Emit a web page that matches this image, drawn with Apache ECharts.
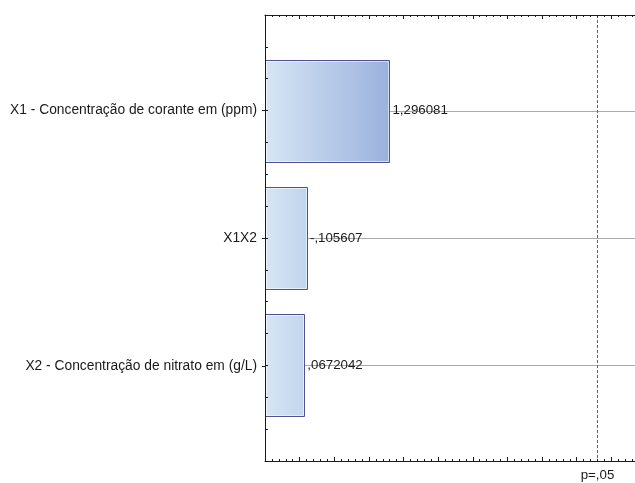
<!DOCTYPE html>
<html>
<head>
<meta charset="utf-8">
<script src="https://cdn.jsdelivr.net/npm/echarts@6/dist/echarts.min.js"></script>
<style>
html,body{margin:0;padding:0;background:#fff;}
#chart{width:635px;height:483px;}
</style>
</head>
<body>
<div id="chart"></div>
<script>
// ---- data ----
const categories = [
  'X1 - Concentração de corante em (ppm)',
  'X1X2',
  'X2 - Concentração de nitrato em (g/L)'
];
const effects = [1.296081, -0.105607, 0.0672042];
const effectLabels = ['1,296081', '-,105607', ',0672042'];
const pCritical = 4.303;
const pLabel = 'p=,05';
const xMin = -0.5, xMax = 5, xStep = 0.5;
const yMin = 0.25, yMax = 3.75, yStep = 0.25;

const FONT = 'Liberation Sans, Arial, sans-serif';
const chart = echarts.init(document.getElementById('chart'));

const barData = effects.map((v, i) => [Math.abs(v), i + 1, i]);
const maxAbs = Math.max.apply(null, effects.map(Math.abs));

const option = {
  animation: false,
  backgroundColor: '#ffffff',
  grid: [
    {left: 265, top: 15, right: -11, bottom: 22, containLabel: false, outerBoundsMode: 'none'},
    {left: 265, top: 46, right: -11, bottom: 53, containLabel: false, outerBoundsMode: 'none'}
  ],
  xAxis: [
    {
      gridIndex: 0, type: 'value', position: 'bottom', min: xMin, max: xMax, interval: xStep, z: 10,
      axisLine: {show: true, onZero: false, lineStyle: {color: '#1a1a1a', width: 1}},
      axisTick: {show: true, inside: true, length: 4, lineStyle: {color: '#1a1a1a'}},
      minorTick: {show: true, splitNumber: 5, length: 2, lineStyle: {color: '#1a1a1a'}},
      axisLabel: {show: false}, splitLine: {show: false}
    },
    {
      gridIndex: 0, type: 'value', position: 'top', min: xMin, max: xMax, interval: xStep, z: 10,
      axisLine: {show: true, onZero: false, lineStyle: {color: '#1a1a1a', width: 1}},
      axisTick: {show: true, inside: true, length: 4, lineStyle: {color: '#1a1a1a'}},
      minorTick: {show: true, splitNumber: 5, length: 2, lineStyle: {color: '#1a1a1a'}},
      axisLabel: {show: false}, splitLine: {show: false}
    },
    {
      gridIndex: 1, type: 'value', min: xMin, max: xMax, show: false
    }
  ],
  yAxis: [
    {
      gridIndex: 0, type: 'value', inverse: true, min: yMin, max: yMax, interval: yStep, z: 10,
      axisLine: {show: true, onZero: false, lineStyle: {color: '#1a1a1a', width: 1}},
      axisTick: {show: true, inside: true, length: 3, lineStyle: {color: '#1a1a1a'}},
      axisLabel: {show: false}, splitLine: {show: false}
    },
    {
      gridIndex: 1, type: 'category', inverse: true, data: categories, z: 10,
      axisLine: {show: true, onZero: false, lineStyle: {color: '#1a1a1a', width: 1}},
      axisTick: {show: true, alignWithLabel: true, inside: false, length: 3, lineStyle: {color: '#1a1a1a'}},
      axisLabel: {show: true, color: '#1a1a1a', fontFamily: FONT, fontSize: 13.8, margin: 8},
      splitLine: {show: false}
    }
  ],
  series: [
    {
      type: 'custom',
      xAxisIndex: 0, yAxisIndex: 0,
      data: barData,
      encode: {x: 0, y: 1},
      clip: false,
      renderItem: function (params, api) {
        const val = api.value(0);
        const pos = api.value(1);
        const idx = api.value(2);
        const start = api.coord([xMin, pos]);
        const end = api.coord([val, pos]);
        const right = api.coord([xMax, pos]);
        const gradEnd = api.coord([maxAbs, pos]);
        const h = api.size([0, 1])[1] * 0.8;
        const x0 = Math.round(start[0]) + 0.5;
        const y0 = Math.round(start[1] - h / 2) + 0.5;
        const w = Math.round(end[0] - start[0]);
        const hh = Math.round(h);
        return {
          type: 'group',
          children: [
            {type: 'line', shape: {x1: end[0], y1: Math.round(end[1]) + 0.5, x2: right[0], y2: Math.round(end[1]) + 0.5},
             style: {stroke: '#aaaaaa', lineWidth: 1}},
            {type: 'rect',
             shape: {x: x0, y: y0, width: w, height: hh},
             style: {
               fill: new echarts.graphic.LinearGradient(start[0], 0, gradEnd[0], 0, [
                 {offset: 0, color: '#d6e6f5'},
                 {offset: 1, color: '#9ab1dc'}
               ], true),
               stroke: '#505094', lineWidth: 1
             }},
            {type: 'rect',
             shape: {x: x0 + 1, y: y0 + 1, width: w - 2, height: hh - 2},
             style: {fill: 'none', stroke: 'rgba(255,255,255,0.55)', lineWidth: 1}},
            {type: 'text',
             style: {text: effectLabels[idx], x: end[0] + 3, y: end[1], verticalAlign: 'middle', align: 'left',
                     fill: '#1a1a1a', font: '13.3px ' + FONT}}
          ]
        };
      }
    },
    {
      type: 'custom',
      xAxisIndex: 0, yAxisIndex: 0,
      data: [[pCritical]],
      encode: {x: 0},
      clip: false,
      silent: true,
      z: 5,
      itemStyle: {color: '#dd3333'},
      renderItem: function (params, api) {
        const p = api.value(0);
        const top = api.coord([p, yMin]);
        const bottom = api.coord([p, yMax]);
        const x = Math.floor(top[0]) + 0.5;
        return {
          type: 'group',
          children: [
            {type: 'line', shape: {x1: x, y1: top[1], x2: x, y2: bottom[1]},
             style: {stroke: '#dd3333', fill: null, lineWidth: 1, lineDash: [3, 2], opacity: 1}},
            {type: 'text',
             style: {text: pLabel, x: x, y: bottom[1] + 14, align: 'center', verticalAlign: 'middle',
                     fill: '#1a1a1a', font: '13.3px ' + FONT}}
          ]
        };
      }
    }
  ]
};
chart.setOption(option);
</script>
</body>
</html>
